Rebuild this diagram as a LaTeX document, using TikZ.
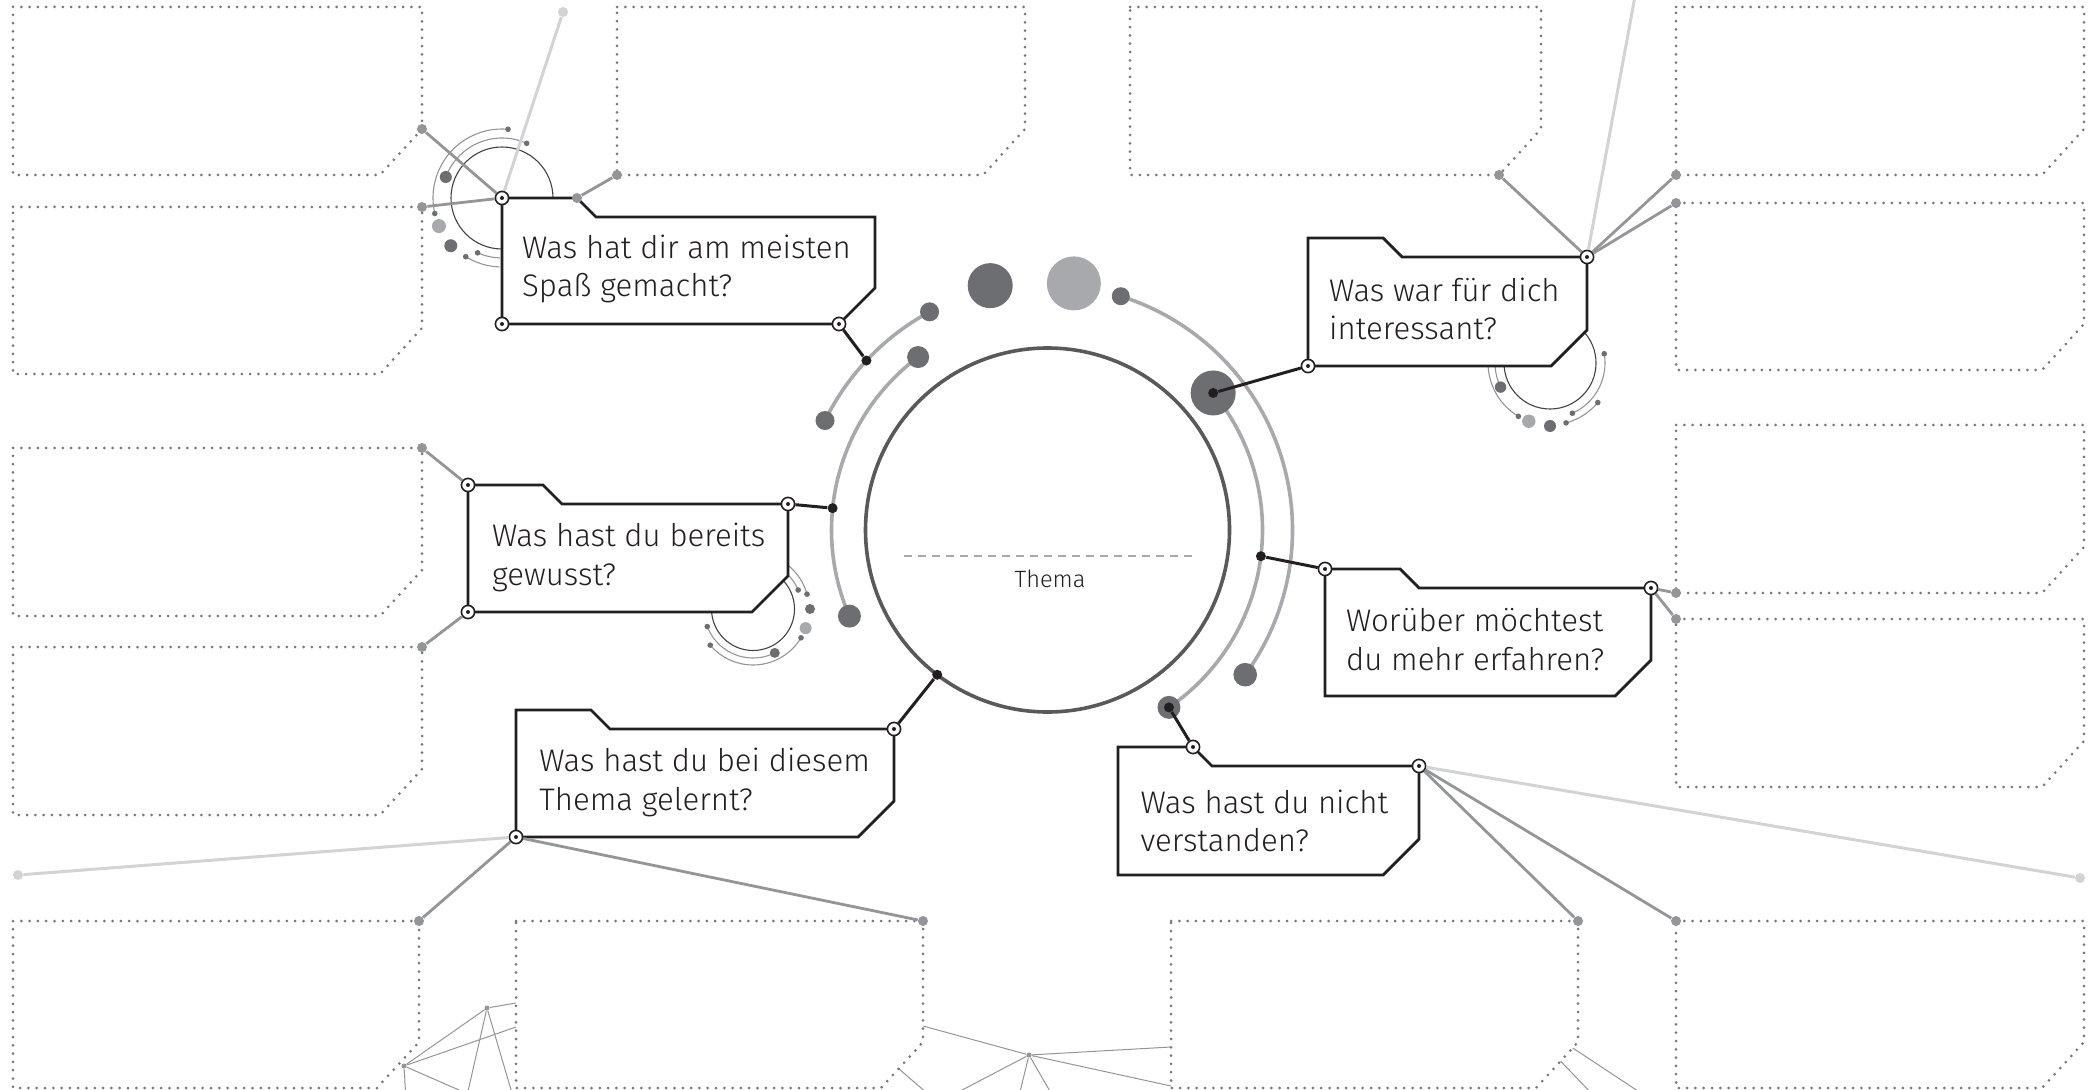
\documentclass[tikz,border=0pt]{standalone}
\usepackage{fontspec}
\IfFontExistsTF{Fira Sans Book}{\setmainfont{Fira Sans Book}}{\setmainfont{Fira Sans Light}}
\usetikzlibrary{calc}

\definecolor{ink}{HTML}{231F20}
\definecolor{ringgray}{HTML}{58595B}
\definecolor{arcgray}{HTML}{A7A9AC}
\definecolor{dotdark}{HTML}{6D6E71}
\definecolor{linkgray}{HTML}{939598}
\definecolor{palegray}{HTML}{D1D3D4}
\definecolor{slotgray}{HTML}{77787B}

\newcommand{\slotbox}[4]{\draw[slot] (#1,#2) -- (#3,#2) -- (#3,#4-46) -- (#3-42,#4) -- (#1,#4) -- cycle;}
\newcommand{\qframe}[4]{\draw[qbox] (#1,#2) -- ++(75,0) -- ++(19,19) -- (#3,#2+19) -- (#3,#4-36) -- (#3-36,#4) -- (#1,#4) -- cycle;}

\begin{document}
\begin{tikzpicture}[x=0.5pt, y=-0.5pt,
    slot/.style={draw=slotgray, fill=white, line width=1.5pt, dash pattern=on 0pt off 4.15pt, line cap=round},
    qbox/.style={draw=ink, fill=white, line width=1.4pt},
    eye/.style={circle, draw=ink, fill=white, line width=0.8pt, minimum size=6.6pt, inner sep=0pt,
        path picture={\fill[ink] (path picture bounding box.center) circle (1pt);}},
    gdot/.style={circle, fill=linkgray, minimum size=5pt, inner sep=0pt},
    ldot/.style={circle, fill=palegray, minimum size=5pt, inner sep=0pt},
    kdot/.style={circle, fill=ink, minimum size=5pt, inner sep=0pt},
    ndot/.style={circle, fill=linkgray, minimum size=2.5pt, inner sep=0pt},
    ddot/.style={circle, fill=dotdark, inner sep=0pt},
    sdot/.style={circle, fill=dotdark, minimum size=2.8pt, inner sep=0pt},
    link/.style={draw=linkgray, line width=1.4pt},
    pale/.style={draw=palegray, line width=1.5pt},
    wire/.style={draw=ink, line width=1.5pt},
    orbit/.style={draw=arcgray, line width=1.8pt},
    fine/.style={draw=ink!85, line width=0.55pt},
    haze/.style={draw=linkgray, line width=0.55pt},
    hair/.style={draw=linkgray, line width=0.5pt},
    txt/.style={anchor=base west, align=left, inner sep=0pt, text=ink, font=\fontsize{15.6}{19.25}\selectfont}
]
\useasboundingbox (0,0) rectangle (2096,1090);
\clip (0,0) rectangle (2096,1090);

% 底部细线
\node[ndot] (n1) at (404,1066) {};
\node[ndot] (n2) at (487,1008) {};
\node[ndot] (n3) at (1029,1055) {};
\coordinate (w1) at (516,1027);
\coordinate (w2) at (516,1003);
\coordinate (w3) at (406,1100);
\coordinate (w4) at (482,1100);
\coordinate (w5) at (466,1100);
\coordinate (w6) at (514,1100);
\coordinate (w7) at (923,1026);
\coordinate (w8) at (1171,1047);
\coordinate (w9) at (1171,1086);
\coordinate (w10) at (943,1100);
\coordinate (w11) at (1018,1100);
\coordinate (w12) at (1055,1100);
\draw[hair] (n1) -- (w1);
\draw[hair] (n1) -- (n2);
\draw[hair] (n1) -- (w3);
\draw[hair] (n1) -- (w4);
\draw[hair] (n2) -- (w2);
\draw[hair] (n2) -- (w5);
\draw[hair] (n2) -- (w6);
\draw[hair] (n3) -- (w7);
\draw[hair] (n3) -- (w8);
\draw[hair] (n3) -- (w9);
\draw[hair] (n3) -- (w10);
\draw[hair] (n3) -- (w11);
\draw[hair] (n3) -- (w12);
\draw[hair] (870,1044) -- (935,1100);
\draw[hair] (1550,1033) -- (1650,1099);
\draw[hair] (1545,1045) -- (1596,1098);

% 虚线框
\slotbox{13}{7}{422}{175}
\slotbox{617}{7}{1025}{175}
\slotbox{1130}{7}{1541}{175}
\slotbox{1676}{7}{2084}{175}
\slotbox{13}{207}{422}{374}
\slotbox{1676}{203}{2084}{370}
\slotbox{13}{448}{422}{616}
\slotbox{1676}{425}{2084}{593}
\slotbox{13}{647}{422}{815}
\slotbox{1676}{619}{2084}{787}
\slotbox{13}{921}{419}{1088}
\slotbox{516}{921}{923}{1088}
\slotbox{1171}{921}{1578}{1088}
\slotbox{1676}{921}{2084}{1088}

% 装饰圆环
\coordinate (ra) at (502,198);
\draw[fine] (ra) circle (51);
\draw[haze] ($(ra)+(-85:69)$) arc[start angle=-85, end angle=-193, radius=69];
\draw[haze] ($(ra)+(-65.7:60)$) arc[start angle=-65.7, end angle=-159.5, radius=60];
\draw[haze] ($(ra)+(121.7:69)$) arc[start angle=121.7, end angle=92, radius=69];
\draw[haze] ($(ra)+(114:60)$) arc[start angle=114, end angle=92, radius=60];
\node[sdot] (ra1) at ($(ra)+(-85:69)$) {};
\node[sdot] (ra2) at ($(ra)+(-65.7:60)$) {};
\node[ddot, minimum size=6pt] (ra3) at ($(ra)+(-159.5:60)$) {};
\node[sdot] (ra4) at ($(ra)+(167:69)$) {};
\node[circle, fill=arcgray, minimum size=7pt, inner sep=0pt] (ra5) at ($(ra)+(156:69)$) {};
\node[ddot, minimum size=6.5pt] (ra6) at ($(ra)+(137:70)$) {};
\node[sdot] (ra7) at ($(ra)+(121.7:69)$) {};
\node[sdot] (ra8) at ($(ra)+(114:60)$) {};

\coordinate (rb) at (1550,363);
\draw[fine] (rb) circle (46);
\draw[haze] ($(rb)+(-9.7:55)$) arc[start angle=-9.7, end angle=66, radius=55];
\draw[haze] ($(rb)+(39.6:62)$) arc[start angle=39.6, end angle=75, radius=62];
\draw[haze] ($(rb)+(120:62)$) arc[start angle=120, end angle=190, radius=62];
\draw[haze] ($(rb)+(154:55)$) arc[start angle=154, end angle=195, radius=55];
\node[sdot] (rb1) at ($(rb)+(-9.7:55)$) {};
\node[sdot] (rb2) at ($(rb)+(66:55)$) {};
\node[sdot] (rb3) at ($(rb)+(39.6:62)$) {};
\node[sdot] (rb4) at ($(rb)+(75:62)$) {};
\node[sdot] (rb5) at ($(rb)+(120.7:62)$) {};
\node[ddot, minimum size=5.7pt] (rb6) at ($(rb)+(154:55)$) {};
\node[circle, fill=arcgray, minimum size=6.7pt, inner sep=0pt] (rb7) at ($(rb)+(110:62)$) {};
\node[ddot, minimum size=6pt] (rb8) at ($(rb)+(90:63)$) {};

\coordinate (rc) at (753,609);
\draw[fine] (rc) circle (41.5);
\draw[haze] ($(rc)+(-70:49)$) arc[start angle=-70, end angle=-22.8, radius=49];
\draw[haze] ($(rc)+(-70:56)$) arc[start angle=-70, end angle=-15.4, radius=56];
\draw[haze] ($(rc)+(63.6:49)$) arc[start angle=63.6, end angle=159, radius=49];
\draw[haze] ($(rc)+(31:56)$) arc[start angle=31, end angle=139.8, radius=56];
\node[sdot] (rc1) at ($(rc)+(-22.8:49)$) {};
\node[sdot] (rc2) at ($(rc)+(-15.4:56)$) {};
\node[sdot] (rc3) at ($(rc)+(31:56)$) {};
\node[sdot] (rc4) at ($(rc)+(159:49)$) {};
\node[sdot] (rc5) at ($(rc)+(139.8:56)$) {};
\node[ddot, minimum size=5pt] (rc6) at ($(rc)+(0:57)$) {};
\node[circle, fill=arcgray, minimum size=6pt, inner sep=0pt] (rc7) at ($(rc)+(20:56)$) {};
\node[ddot, minimum size=5pt] (rc8) at ($(rc)+(63.6:49)$) {};

% 中心圆
\coordinate (c) at (1047.5,530);
\draw[orbit] ($(c)+(-118.4:248)$) arc[start angle=-118.4, end angle=-153.8, radius=248];
\draw[orbit] ($(c)+(-126.8:216)$) arc[start angle=-126.8, end angle=-203.5, radius=216];
\draw[orbit] ($(c)+(-72.6:245)$) arc[start angle=-72.6, end angle=36.2, radius=245];
\draw[orbit] ($(c)+(-39.6:215)$) arc[start angle=-39.6, end angle=55.6, radius=215];
\node[circle, draw=ringgray, line width=1.8pt, minimum size=182pt, inner sep=0pt] (thema) at (c) {};
\draw[arcgray, line width=0.6pt, dash pattern=on 4pt off 3pt] (903.6,556) -- (1196.4,556);
\node[anchor=base, inner sep=0pt, text=ink, font=\fontsize{11.8}{13}\selectfont] (lbl) at (1050,587) {Thema};

\node[ddot, minimum size=9.5pt] (o1) at ($(c)+(-118.4:248)$) {};
\node[ddot, minimum size=9.5pt] (o2) at ($(c)+(-153.8:248)$) {};
\node[ddot, minimum size=11pt] (i1) at ($(c)+(-126.8:216)$) {};
\node[ddot, minimum size=11.5pt] (i2) at ($(c)+(-203.5:216)$) {};
\node[ddot, minimum size=22.5pt] (big1) at ($(c)+(-103.2:251)$) {};
\node[circle, fill=arcgray, minimum size=27pt, inner sep=0pt] (big2) at ($(c)+(-83.9:248)$) {};
\node[ddot, minimum size=9pt] (o3) at ($(c)+(-72.6:245)$) {};
\node[ddot, minimum size=11.8pt] (o4) at ($(c)+(36.2:245)$) {};
\node[ddot, minimum size=22.5pt] (big3) at ($(c)+(-39.6:215)$) {};
\node[ddot, minimum size=11.5pt] (i3) at ($(c)+(55.6:215)$) {};

\node[kdot] (k1) at ($(c)+(-136.9:248)$) {};
\node[kdot] (k3) at ($(c)+(-174.2:216)$) {};
\node[kdot] (k4) at (big3) {};
\node[kdot] (k5) at ($(c)+(7:215)$) {};
\node[kdot] (k6) at (i3) {};
\node[kdot] (k7) at ($(c)+(127.3:182)$) {};

% 问题框
\qframe{502}{198}{875}{324}
\qframe{1308}{238}{1587}{366}
\qframe{468}{485}{788}{612}
\qframe{1325}{569}{1651}{696}
\qframe{1118}{747}{1419}{875}
\qframe{516}{710}{894}{837}

\node[gdot] (sa) at (422,129) {};
\node[gdot] (sb) at (422,207) {};
\node[gdot] (sc) at (422,448) {};
\node[gdot] (sd) at (422,647) {};
\node[gdot] (se) at (419,921) {};
\node[gdot] (sf) at (923,921) {};
\node[gdot] (st1) at (617,175) {};
\node[gdot] (st2) at (1499,175) {};
\node[gdot] (sr1) at (1676,175) {};
\node[gdot] (sr2) at (1676,203) {};
\node[gdot] (sr3) at (1676,593) {};
\node[gdot] (sr4) at (1676,619) {};
\node[gdot] (sg) at (1578,921) {};
\node[gdot] (sh) at (1676,921) {};
\node[gdot] (q1tab) at (577,198) {};
\node[ldot] (l1) at (563,12) {};
\node[ldot] (l2) at (18,875) {};
\node[ldot] (l3) at (2080,878) {};
\coordinate (l4) at (1638,-20);

\node[eye] (q1tl) at (502,198) {};
\node[eye] (q1bl) at (502,324) {};
\node[eye] (q1br) at (839,324) {};
\node[eye] (q2tr) at (1587,257) {};
\node[eye] (q2bl) at (1308,366) {};
\node[eye] (q3tl) at (468,485) {};
\node[eye] (q3tr) at (788,504) {};
\node[eye] (q3bl) at (468,612) {};
\node[eye] (q4tl) at (1325,569) {};
\node[eye] (q4tr) at (1651,588) {};
\node[eye] (q5tab) at (1193,747) {};
\node[eye] (q5tr) at (1419,766) {};
\node[eye] (q6tr) at (894,729) {};
\node[eye] (q6bl) at (516,837) {};

\draw[link] (q1tl) -- (sa);
\draw[link] (q1tl) -- (sb);
\draw[pale] (q1tl) -- (l1);
\draw[link] (q1tab) -- (st1);
\draw[wire] (q1br) -- (k1);
\draw[link] (q2tr) -- (st2);
\draw[pale] (q2tr) -- (l4);
\draw[link] (q2tr) -- (sr1);
\draw[link] (q2tr) -- (sr2);
\draw[wire] (q2bl) -- (k4);
\draw[link] (q3tl) -- (sc);
\draw[link] (q3bl) -- (sd);
\draw[wire] (q3tr) -- (k3);
\draw[wire] (q4tl) -- (k5);
\draw[link] (q4tr) -- (sr3);
\draw[link] (q4tr) -- (sr4);
\draw[wire] (q5tab) -- (k6);
\draw[pale] (q5tr) -- (l3);
\draw[link] (q5tr) -- (sg);
\draw[link] (q5tr) -- (sh);
\draw[wire] (q6tr) -- (k7);
\draw[pale] (q6bl) -- (l2);
\draw[link] (q6bl) -- (se);
\draw[link] (q6bl) -- (sf);

% 文字 (基线取第二行)
\node[txt] (t1) at (521.7,296.7) {Was hat dir am meisten\\Spaß gemacht?};
\node[txt] (t2) at (1328.8,340) {Was war für dich\\interessant?};
\node[txt] (t3) at (491.7,585) {Was hast du bereits\\gewusst?};
\node[txt] (t4) at (1345.7,670) {Worüber möchtest\\du mehr erfahren?};
\node[txt] (t5) at (1140.2,851.7) {Was hast du nicht\\verstanden?};
\node[txt] (t6) at (539,810) {Was hast du bei diesem\\Thema gelernt?};

\end{tikzpicture}
\end{document}
